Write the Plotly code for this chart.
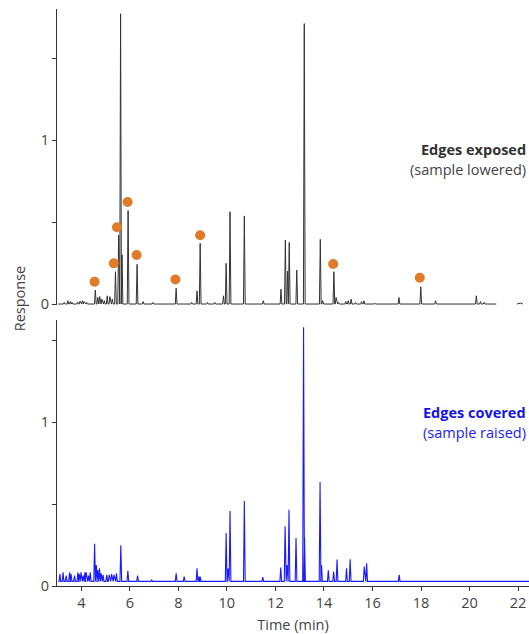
import plotly.graph_objects as go

# ---------------- data ----------------
# Top panel: edges exposed (sample lowered)
top_times = [3.30, 3.45, 3.55, 3.62, 3.85, 3.95, 4.05, 4.12, 4.22,
             4.58, 4.68, 4.76, 4.85, 4.95, 5.07, 5.18, 5.28,
             5.41, 5.54, 5.62, 5.68, 5.93, 6.30, 6.55, 6.95,
             7.91, 8.55, 8.77, 8.90, 9.20, 9.50, 9.86, 9.97, 10.13, 10.72,
             11.50, 12.23, 12.41, 12.50, 12.57, 12.88, 13.19, 13.85, 13.95,
             14.41, 14.50, 14.60, 14.90, 15.00, 15.12, 15.30, 15.55, 15.65,
             16.10, 17.09, 17.99, 18.60, 20.28, 20.45, 20.60]
top_heights = [0.010, 0.020, 0.015, 0.010, 0.012, 0.018, 0.020, 0.015, 0.010,
               0.085, 0.040, 0.045, 0.030, 0.020, 0.050, 0.045, 0.030,
               0.197, 0.420, 1.770, 0.300, 0.570, 0.242, 0.015, 0.010,
               0.096, 0.010, 0.080, 0.370, 0.010, 0.010, 0.050, 0.248, 0.563, 0.537,
               0.020, 0.090, 0.390, 0.200, 0.376, 0.207, 1.710, 0.394, 0.020,
               0.197, 0.040, 0.010, 0.015, 0.020, 0.030, 0.010, 0.015, 0.020,
               0.005, 0.040, 0.105, 0.020, 0.050, 0.015, 0.010]
top_start, top_end = 3.05, 21.10
top_tail_times = [21.95, 22.10, 22.20]
top_tail_values = [0.0, 0.006, 0.0]

# Marked peaks (orange dots)
dot_times = [4.55, 5.34, 5.47, 5.91, 6.28, 7.88, 8.90, 14.38, 17.95]
dot_values = [0.136, 0.248, 0.468, 0.622, 0.299, 0.150, 0.419, 0.244, 0.160]

# Bottom panel: edges covered (sample raised)
bot_times = [3.12, 3.25, 3.38, 3.52, 3.58, 3.72, 3.86, 3.92, 3.99, 4.08, 4.15, 4.20, 4.30, 4.37,
             4.55, 4.62, 4.68, 4.75, 4.82, 4.90, 5.05, 5.15, 5.25, 5.35, 5.45, 5.63, 5.92, 6.32, 6.90,
             7.91, 8.24, 8.77, 8.85, 8.90, 9.97, 10.05, 10.13, 10.72,
             11.48, 12.22, 12.40, 12.48, 12.56, 12.85, 13.16, 13.20, 13.84, 13.90,
             14.18, 14.40, 14.54, 14.93, 15.08, 15.66, 15.76, 17.10]
bot_heights = [0.045, 0.055, 0.035, 0.055, 0.045, 0.035, 0.055, 0.045, 0.055, 0.035, 0.055, 0.055, 0.035, 0.055,
               0.230, 0.100, 0.070, 0.080, 0.050, 0.040, 0.040, 0.040, 0.045, 0.040, 0.050, 0.220, 0.065, 0.035, 0.010,
               0.050, 0.030, 0.080, 0.030, 0.030, 0.295, 0.080, 0.430, 0.490,
               0.027, 0.084, 0.336, 0.100, 0.437, 0.265, 1.550, 0.270, 0.606, 0.100,
               0.068, 0.060, 0.133, 0.080, 0.135, 0.090, 0.110, 0.040]
bot_baseline = 0.028
bot_start, bot_end = 3.05, 22.45

y_tickvals = [0, 0.5, 1, 1.5]
y_ticktext = ["0", "", "1", ""]
x_tickvals = [4, 6, 8, 10, 12, 14, 16, 18, 20, 22]

# ---------------- build traces ----------------
HALF_W = 0.035


def chromatogram(times, heights, base, start, end):
    xs, ys = [start], [base]
    for t, h in sorted(zip(times, heights)):
        xs += [t - HALF_W, t, t + HALF_W]
        ys += [base, base + h, base]
    xs.append(end)
    ys.append(base)
    return xs, ys


tx, ty = chromatogram(top_times, top_heights, 0.0, top_start, top_end)
tx += [None] + top_tail_times
ty += [None] + top_tail_values
bx, by = chromatogram(bot_times, bot_heights, bot_baseline, bot_start, bot_end)

FONT = "Open Sans"
TEXT_C = "#444444"
AX_C = "#333333"

fig = go.Figure()
fig.add_trace(go.Scatter(x=tx, y=ty, mode="lines", line=dict(color="#333333", width=1),
                         xaxis="x", yaxis="y", hoverinfo="skip", connectgaps=False))
fig.add_trace(go.Scatter(x=dot_times, y=dot_values, mode="markers",
                         marker=dict(color="#E07B2A", size=10, line=dict(width=0)),
                         xaxis="x", yaxis="y"))
fig.add_trace(go.Scatter(x=bx, y=by, mode="lines", line=dict(color="#1a1aff", width=1.1),
                         xaxis="x2", yaxis="y2", hoverinfo="skip"))

xr = [3.0, 22.45]
fig.update_layout(
    width=529, height=634,
    margin=dict(l=57, r=0, t=9, b=48),
    paper_bgcolor="white", plot_bgcolor="white",
    showlegend=False,
    font=dict(family=FONT, size=14, color=TEXT_C),
    xaxis=dict(domain=[0, 1], range=xr, anchor="y", visible=False),
    yaxis=dict(domain=[0.487, 1], range=[-0.006, 1.799], anchor="x",
               showline=True, linecolor=AX_C, linewidth=1, ticks="outside", ticklen=4,
               tickcolor=AX_C, tickvals=y_tickvals, ticktext=y_ticktext,
               showgrid=False, zeroline=False, tickfont=dict(size=14.5, color=TEXT_C)),
    xaxis2=dict(domain=[0, 1], range=xr, anchor="y2",
                showline=True, linecolor=AX_C, linewidth=1, ticks="outside", ticklen=4,
                tickcolor=AX_C, tickvals=x_tickvals, showgrid=False, zeroline=False,
                tickfont=dict(size=14.5, color=TEXT_C),
                title=dict(text="Time (min)", font=dict(size=14.5, color=TEXT_C), standoff=11)),
    yaxis2=dict(domain=[0, 0.461], range=[0, 1.622], anchor="x2",
                showline=True, linecolor=AX_C, linewidth=1, ticks="outside", ticklen=4,
                tickcolor=AX_C, tickvals=y_tickvals, ticktext=y_ticktext,
                showgrid=False, zeroline=False, tickfont=dict(size=14.5, color=TEXT_C)),
)

ann = [
    dict(text="<b>Edges exposed</b>", x=1, y=0.945, xref="paper", yref="y",
         font=dict(color="#333333", size=14.5)),
    dict(text="(sample lowered)", x=1, y=0.823, xref="paper", yref="y",
         font=dict(color="#444444", size=14.5)),
    dict(text="<b>Edges covered</b>", x=1, y=1.061, xref="paper", yref="y2",
         font=dict(color="#1414e6", size=14.5)),
    dict(text="(sample raised)", x=1, y=0.939, xref="paper", yref="y2",
         font=dict(color="#1a1aff", size=14.5)),
]
for a in ann:
    fig.add_annotation(showarrow=False, xanchor="right", yanchor="middle", xshift=-1, **a)

fig.add_annotation(text="Response", x=-0.080, y=0.499, xref="paper", yref="paper",
                   showarrow=False, textangle=-90, xanchor="center", yanchor="middle",
                   font=dict(size=14.5, color=TEXT_C))

fig.write_html("out.html")
